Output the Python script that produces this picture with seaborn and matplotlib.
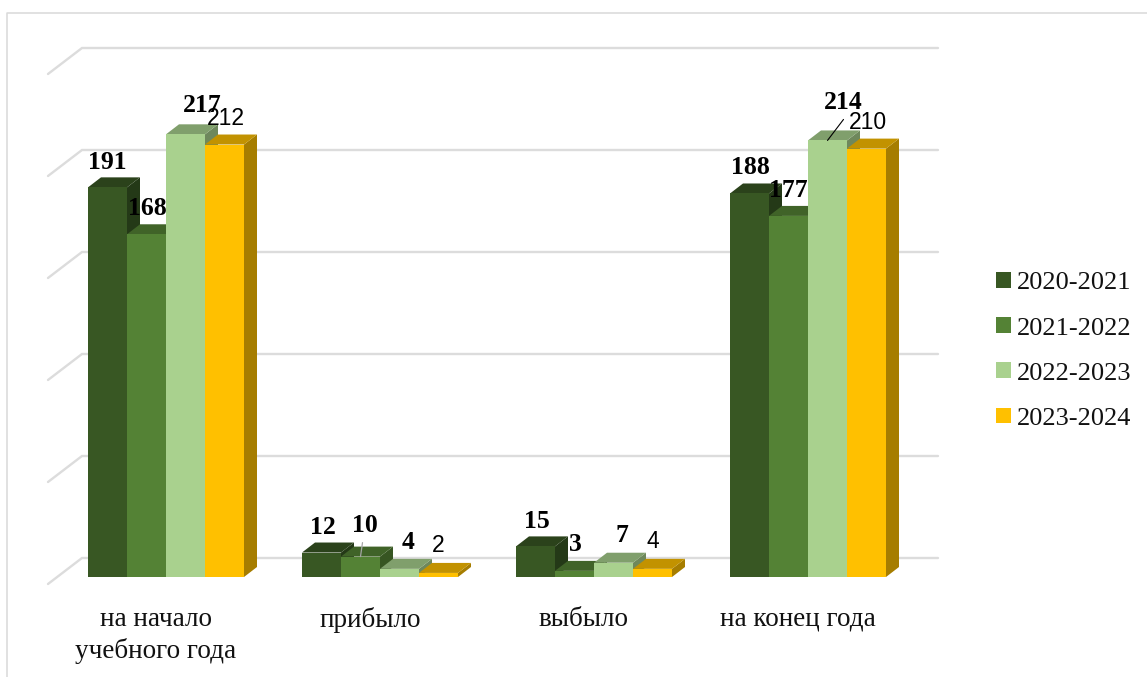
import pandas as pd
import numpy as np
import matplotlib
matplotlib.use("Agg")
import matplotlib.pyplot as plt
import seaborn as sns
from matplotlib.lines import Line2D
from matplotlib.patches import Polygon
from matplotlib.colors import to_rgb

# Chart data
categories = ["на начало\nучебного года", "прибыло", "выбыло", "на конец года"]
years = ["2020-2021", "2021-2022", "2022-2023", "2023-2024"]
values_2020 = [191, 12, 15, 188]
values_2021 = [168, 10, 3, 177]
values_2022 = [217, 4, 7, 214]
values_2023 = [212, 2, 4, 210]
grid_values = [0, 50, 100, 150, 200, 250]
palette = ["#385723", "#548235", "#A9D18E", "#FFC000"]

# Picture geometry, in pixels of the 1147x677 image
W, H = 1147, 677
GROUP_PX = 214        # distance between two groups
PX_PER_UNIT = 2.04    # pixels per one value unit
FIRST_GROUP_PX = 166
BASE_PX = 577         # y of value 0 on the bars
FLOOR_PX = 584        # y of value 0 on the front of the floor
DEPTH_X = 13 / GROUP_PX
DEPTH_Y = 10 / PX_PER_UNIT

# Label nudges from the top centre of each bar (dx, dy in pixels), series by series
label_offsets = [
    [(0, 25), (1, 25), (1, 25), (1, 26)],
    [(1, 26), (4, 31), (1, 26), (0, 25)],
    [(17, 29), (9, 26), (8, 27), (16, 38)],
    [(1, 26), (0, 27), (0, 27), (1, 26)],
]

sns.set_theme(style="white")
plt.rcParams["font.family"] = ["Liberation Serif", "DejaVu Serif"]

df = pd.DataFrame({
    "category": categories * 4,
    "year": np.repeat(years, 4),
    "value": values_2020 + values_2021 + values_2022 + values_2023,
})

fig = plt.figure(figsize=(W / 100, H / 100), dpi=100)
ax = fig.add_axes([0, (H - FLOOR_PX) / H, 1, FLOOR_PX / H])

sns.barplot(data=df, x="category", y="value", hue="year", order=categories,
            hue_order=years, palette=palette, saturation=1, width=4 * 39 / GROUP_PX,
            gap=0, linewidth=0, errorbar=None, ax=ax)

# Back wall lines and the slanted floor/side lines
back_lift = (BASE_PX - 558) / PX_PER_UNIT
front_drop = (FLOOR_PX - BASE_PX) / PX_PER_UNIT
x_back0 = (82 - FIRST_GROUP_PX) / GROUP_PX
x_back1 = (938 - FIRST_GROUP_PX) / GROUP_PX
x_front = (48 - FIRST_GROUP_PX) / GROUP_PX
for v in grid_values:
    ax.plot([x_front, x_back0, x_back1], [v - front_drop, v + back_lift, v + back_lift],
            color="#dcdcdc", lw=1.7, zorder=1, solid_joinstyle="miter", clip_on=False)

# Fake 3D faces built from the bars seaborn drew
for i, container in enumerate(ax.containers):
    rgb = np.array(to_rgb(palette[i]))
    for j, bar in enumerate(container):
        x0, w, h = bar.get_x(), bar.get_width(), bar.get_height()
        x1 = x0 + w
        z = 3 + i + j * 10
        bar.set_zorder(z)
        top = Polygon([(x0, h), (x1, h), (x1 + DEPTH_X, h + DEPTH_Y), (x0 + DEPTH_X, h + DEPTH_Y)],
                      closed=True, facecolor=rgb * 0.76, edgecolor="none", zorder=z - 0.1)
        side = Polygon([(x1, 0), (x1 + DEPTH_X, DEPTH_Y), (x1 + DEPTH_X, h + DEPTH_Y), (x1, h)],
                       closed=True, facecolor=rgb * 0.65, edgecolor="none", zorder=z - 0.2)
        ax.add_patch(top)
        ax.add_patch(side)

        # Data labels: last series is plain sans, the rest bold serif
        dx, dy = label_offsets[i][j]
        if i == 3:
            font = dict(family="Liberation Sans", fontsize=16.5)
        else:
            font = dict(family="Liberation Serif", fontsize=18.5, fontweight="bold")
        ax.annotate(f"{int(h)}", xy=(x0 + w / 2, h), xytext=(dx, dy), textcoords="offset pixels",
                    ha="center", va="center", color="black", zorder=100, **font)

# Leader lines
b10 = ax.containers[1][1]
ax.annotate("", xy=(b10.get_x() + b10.get_width() / 2, b10.get_height()), xytext=(2, 14),
            textcoords="offset pixels", zorder=99,
            arrowprops=dict(arrowstyle="-", color="#a6a6a6", lw=0.9, shrinkA=0, shrinkB=0))
b214 = ax.containers[2][3]
ax.annotate("", xy=(b214.get_x() + b214.get_width() / 2, b214.get_height()), xytext=(16, 21),
            textcoords="offset pixels", zorder=99,
            arrowprops=dict(arrowstyle="-", color="black", lw=0.8, shrinkA=0, shrinkB=0))

ax.set_xlim(-FIRST_GROUP_PX / GROUP_PX, (W - FIRST_GROUP_PX) / GROUP_PX)
ax.set_ylim(-front_drop, BASE_PX / PX_PER_UNIT)
ax.set_xticks(np.arange(4) - 10 / GROUP_PX)
ax.set_xticklabels(categories, fontsize=19.5, color="#111111", linespacing=1.28)
ax.tick_params(axis="x", length=0, pad=16.5)
ax.set_yticks([])
ax.set_xlabel("")
ax.set_ylabel("")
sns.despine(ax=ax, left=True, bottom=True)
ax.patch.set_alpha(0)

# Legend on the right
ax.legend(loc="center left", bbox_to_anchor=(991 / W, 1 - 351 / FLOOR_PX), frameon=False,
          fontsize=19, handlelength=0.54, handleheight=0.54, handletextpad=0.25,
          labelspacing=0.87, borderpad=0, borderaxespad=0.2, labelcolor="#111111", title=None)

# Outer chart frame, only left and top edges show
fig.add_artist(Line2D([7 / W, 7 / W, 1], [0, 1 - 13 / H, 1 - 13 / H], color="#d9d9d9", lw=1.1))

fig.savefig("out.png", dpi=100)
plt.close(fig)
